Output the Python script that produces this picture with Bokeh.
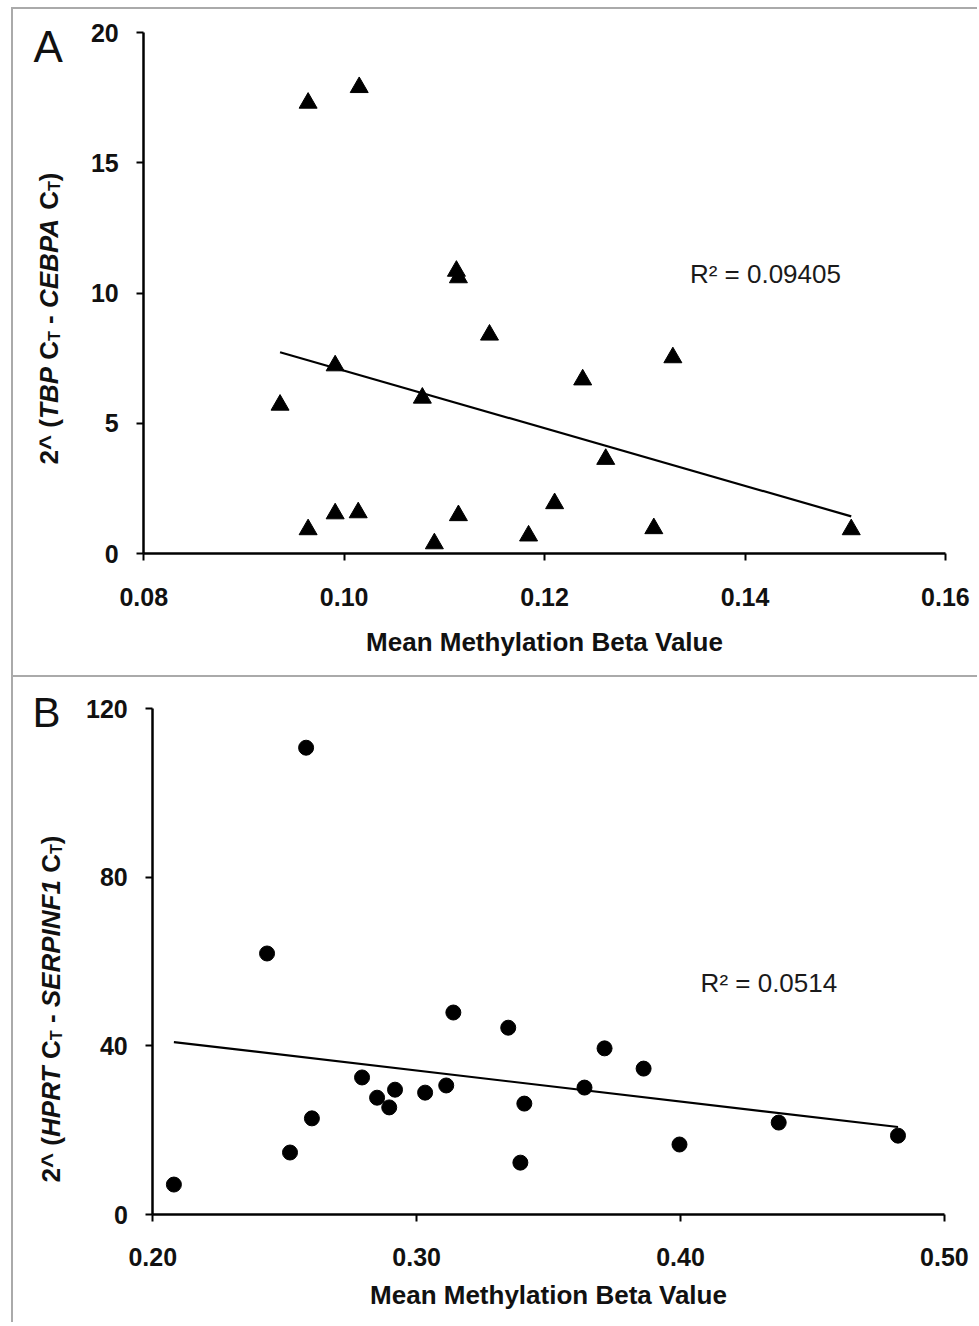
import math
import numpy as np
from bokeh.plotting import figure
from bokeh.layouts import column, row
from bokeh.models import Range1d, FixedTicker, PrintfTickFormatter, Label, LinearAxis
from bokeh.embed import file_html
from bokeh.resources import INLINE

# ---------------- data ----------------
a_x = [0.0936, 0.0964, 0.0964, 0.0991, 0.0991, 0.1014, 0.1015, 0.1078, 0.1090, 0.1112,
       0.1114, 0.1114, 0.1145, 0.1184, 0.1210, 0.1238, 0.1261, 0.1309, 0.1328, 0.1506]
a_y = [5.71, 17.3, 0.93, 7.22, 1.54, 1.58, 17.9, 5.98, 0.39, 10.85,
       10.6, 1.47, 8.4, 0.69, 1.93, 6.68, 3.63, 0.97, 7.53, 0.93]
a_r2 = "R² = 0.09405"
a_xticks = [0.08, 0.10, 0.12, 0.14, 0.16]
a_yticks = [0, 5, 10, 15, 20]

b_x = [0.2080, 0.2433, 0.2520, 0.2581, 0.2603, 0.2793, 0.2850, 0.2896, 0.2918, 0.3032, 0.3112,
       0.3139, 0.3347, 0.3393, 0.3408, 0.3636, 0.3712, 0.3860, 0.3996, 0.4372, 0.4824]
b_y = [7.1, 61.9, 14.7, 110.7, 22.8, 32.5, 27.7, 25.4, 29.6, 28.9, 30.6,
       47.9, 44.3, 12.3, 26.3, 30.1, 39.4, 34.6, 16.6, 21.8, 18.7]
b_r2 = "R² = 0.0514"
b_xticks = [0.20, 0.30, 0.40, 0.50]
b_yticks = [0, 40, 80, 120]

x_title = "Mean Methylation Beta Value"
a_ylabel = [("2^ (", "bold", False), ("TBP", "bold italic", False), (" C", "bold", False),
            ("T", "bold", True), (" - ", "bold", False), ("CEBPA", "bold italic", False),
            (" C", "bold", False), ("T", "bold", True), (")", "bold", False)]
b_ylabel = [("2^ (", "bold", False), ("HPRT", "bold italic", False), (" C", "bold", False),
            ("T", "bold", True), (" - ", "bold", False), ("SERPINF1", "bold italic", False),
            (" C", "bold", False), ("T", "bold", True), (")", "bold", False)]

FONT = "Liberation Sans"
INK = "#111111"
# Arial/Liberation Sans Bold advance widths (per 1000 em)
W = {'2': 556, '^': 584, ' ': 278, '(': 333, ')': 333, '-': 333, 'A': 722, 'B': 722, 'C': 722,
     'E': 667, 'F': 611, 'H': 722, 'I': 278, 'N': 722, 'P': 667, 'R': 722, 'S': 667, 'T': 611, '1': 556}


def add_ylabel(p, parts, x0, y0, size):
    """Rotated multi-style label; spaces are turned into advances (SVG strips them)."""
    y = y0
    for txt, style, sub in parts:
        fs = size * 0.62 if sub else size
        lead = len(txt) - len(txt.lstrip(" "))
        core = txt.strip(" ")
        xo = x0 + (size * 0.2 if sub else 0)
        if core:
            p.add_layout(Label(x=xo, y=y + lead * W[' '] * fs / 1000.0,
                               x_units="screen", y_units="screen", text=core,
                               angle=math.pi / 2, text_align="left", text_baseline="middle",
                               text_font=FONT, text_font_style=style,
                               text_font_size=f"{fs:.1f}px", text_color=INK))
        y += sum(W[c] for c in txt) * fs / 1000.0


def span(v0, v1, p0, p1, lo, hi):
    """data range covering pixels lo..hi when value v0 sits at pixel p0 and v1 at p1"""
    k = (v1 - v0) / (p1 - p0)
    return v0 + (lo - p0) * k, v0 + (hi - p0) * k


def make_panel(xs, ys, xticks, yticks, marker, msize, r2, r2x, r2y,
               letter, letter_xy, letter_size, ylabel, ylab_xy,
               canvas, xpix, ypix, styles, tick_standoff, title_standoff):
    # canvas = (left, top, right, bottom) page pixels; xpix/ypix = pixels of first/last tick
    cl, ct, cr, cb = canvas
    xr = span(xticks[0], xticks[-1], xpix[0], xpix[1], cl, cr)
    yr = span(yticks[0], yticks[-1], ypix[0], ypix[1], cb, ct)
    p = figure(width=cr - cl, height=cb - ct, output_backend="svg", toolbar_location=None,
               x_range=Range1d(*xr), y_range=Range1d(*yr),
               x_axis_location=None, y_axis_location=None,
               min_border_left=0, min_border_right=0, min_border_top=0, min_border_bottom=0,
               styles=styles)
    p.outline_line_color = None
    p.xgrid.visible = False
    p.ygrid.visible = False
    p.background_fill_color = "white"
    p.border_fill_color = "white"

    xaxis = LinearAxis(fixed_location=yticks[0], bounds=(xticks[0], xticks[-1]))
    yaxis = LinearAxis(fixed_location=xticks[0], bounds=(yticks[0], yticks[-1]))
    for ax in (xaxis, yaxis):
        ax.axis_line_width = 2.5
        ax.axis_line_color = "black"
        ax.major_tick_line_width = 2
        ax.major_tick_line_color = "black"
        ax.major_tick_out = 7
        ax.major_tick_in = 0
        ax.minor_tick_line_color = None
        ax.major_label_text_font = FONT
        ax.major_label_text_font_style = "bold"
        ax.major_label_text_font_size = "25px"
        ax.major_label_text_color = INK

    xaxis.ticker = FixedTicker(ticks=xticks)
    xaxis.formatter = PrintfTickFormatter(format="%.2f")
    xaxis.major_label_standoff = tick_standoff
    xaxis.axis_label = x_title
    xaxis.axis_label_text_font = FONT
    xaxis.axis_label_text_font_style = "bold"
    xaxis.axis_label_text_font_size = "26px"
    xaxis.axis_label_text_color = INK
    xaxis.axis_label_standoff = title_standoff

    yaxis.ticker = FixedTicker(ticks=yticks)
    yaxis.formatter = PrintfTickFormatter(format="%d")
    yaxis.major_label_standoff = 18
    p.add_layout(xaxis, "below")
    p.add_layout(yaxis, "left")

    # least-squares trend line computed from the data
    slope, icpt = np.polyfit(xs, ys, 1)
    tx = [min(xs), max(xs)]
    p.line(tx, [slope * v + icpt for v in tx], line_color="black", line_width=2.2)

    p.scatter(xs, ys, marker=marker, size=msize, fill_color="black", line_color="black")

    p.add_layout(Label(x=r2x, y=r2y, text=r2, text_font=FONT, text_font_size="26px",
                       text_color="#1a1a1a", text_align="left", text_baseline="middle"))
    p.add_layout(Label(x=letter_xy[0] - cl, y=cb - letter_xy[1], x_units="screen", y_units="screen",
                       text=letter, text_font=FONT, text_font_size=f"{letter_size}px",
                       text_color=INK, text_align="left", text_baseline="alphabetic"))
    add_ylabel(p, ylabel, ylab_xy[0] - cl, cb - ylab_xy[1], 26)
    return p


pa = make_panel(a_x, a_y, a_xticks, a_yticks, "triangle", 18,
                a_r2, 0.1345, 10.73, "A", (33, 42), 44, a_ylabel, (48, 460),
                (13, 9, 977, 675), (143, 943), (550, 32),
                {"border": "2px solid #aaaaaa", "border-right": "none",
                 "box-sizing": "content-box"}, 27, 18)

pb = make_panel(b_x, b_y, b_xticks, b_yticks, "circle", 15,
                b_r2, 0.4076, 55.0, "B", (32, 712), 42, b_ylabel, (50, 1182),
                (13, 677, 977, 1322), (152, 942), (1214, 708),
                {"border-left": "2px solid #aaaaaa", "box-sizing": "content-box"}, 26, 11)

layout = column(row(pa), row(pb), spacing=0,
                styles={"margin-left": "11px", "margin-top": "7px"})
open("out.html", "w").write(file_html(layout, INLINE))
